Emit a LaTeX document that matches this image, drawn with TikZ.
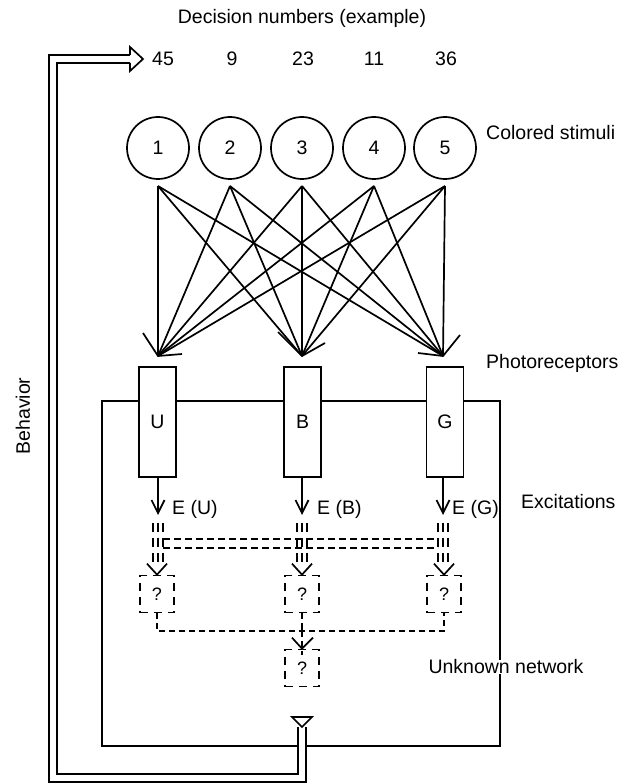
\documentclass[tikz,border=0pt]{standalone}
\usepackage{fontspec}
\setmainfont{Liberation Sans}
\usetikzlibrary{arrows.meta}
\begin{document}
\begin{tikzpicture}[x=1pt,y=-1pt,
  txt/.style={font=\fontsize{19.5}{23}\selectfont, inner sep=1pt},
  stim/.style={circle, draw, line width=1.7pt, minimum size=62pt, inner sep=0pt, font=\fontsize{19.5}{23}\selectfont},
  recept/.style={draw, line width=1.7pt, fill=white, minimum width=37pt, minimum height=110pt, inner sep=0pt, font=\fontsize{19.5}{23}\selectfont},
  qbox/.style={draw, line width=1.7pt, dash pattern=on 8pt off 6pt, minimum width=34pt, minimum height=37pt, inner sep=0pt, font=\fontsize{18}{22}\selectfont},
  wire/.style={line width=1.7pt},
  dwire/.style={line width=1.7pt, dash pattern=on 6pt off 4pt},
  tdash/.style={line width=1.5pt, dash pattern=on 9pt off 6pt},
  bus/.style={line width=1.5pt, dash pattern=on 7pt off 4pt},
  excit/.style={line width=1.7pt, -{Straight Barb[length=13pt,width=13pt,line width=1.7pt]}},
  dbl/.style={line width=1.6pt, double=white, double distance=6.2pt},
]
\useasboundingbox (0,0) rectangle (627,783);

% title and decision numbers
\node[txt] (title) at (302,18) {Decision numbers (example)};
\node[txt] (d1) at (163,59) {45};
\node[txt] (d2) at (232,59) {9};
\node[txt] (d3) at (303,59) {23};
\node[txt] (d4) at (374,59) {11};
\node[txt] (d5) at (446,59) {36};

% stimuli
\node[stim] (c1) at (158,148) {1};
\node[stim] (c2) at (230,148) {2};
\node[stim] (c3) at (302,148) {3};
\node[stim] (c4) at (374,148) {4};
\node[stim] (c5) at (445,148) {5};
\node[txt, anchor=west] (lstim) at (485,133) {Colored stimuli};

\foreach \i/\x in {1/158,2/230,3/302,4/374,5/445} {\coordinate (s\i) at (\x,186);}

\coordinate (t1) at (158,356);
\coordinate (t2) at (302,356);
\coordinate (t3) at (443,356);

\foreach \i in {1,...,5} {
  \foreach \j in {1,2,3} {
    \draw[wire] (s\i) -- (t\j);
  }
}
% big open arrowheads
\draw[wire] ([shift={(-15,-23)}]t1) -- (t1) -- ([shift={(24,-2)}]t1);
\draw[wire] ([shift={(-24,-24)}]t2) -- (t2) -- ([shift={(23,-13)}]t2);
\draw[wire] ([shift={(-25,-3)}]t3) -- (t3) -- ([shift={(17,-21)}]t3);

% enclosing network rectangle
\draw[wire] (102,401) rectangle (500,746);

% photoreceptors
\node[recept] (U) at (157.5,422) {U};
\node[recept] (B) at (302.5,422) {B};
\node[recept] (G) at (445,422) {G};
\node[txt, anchor=west] (lphot) at (485,363) {Photoreceptors};

% excitations
\coordinate (eU) at (158,515);
\coordinate (eB) at (302,515);
\coordinate (eG) at (443,515);
\draw[excit] (U.south -| eU) -- (eU);
\draw[excit] (B.south -| eB) -- (eB);
\draw[excit] (G.south -| eG) -- (eG);
\node[txt, anchor=west] (lU) at ([shift={(13,-6)}]eU) {E (U)};
\node[txt, anchor=west] (lB) at ([shift={(14,-6)}]eB) {E (B)};
\node[txt, anchor=west] (lG) at ([shift={(8,-6)}]eG) {E (G)};
\node[txt, anchor=west] (lexc) at (520,502) {Excitations};

% triple dashed lines and bus
\foreach \x in {158,302,443} {
  \foreach \d in {-5,0,5} {
    \draw[tdash] (\x+\d,523) -- (\x+\d,562);
  }
}
\draw[bus] (163,539) -- (438,539);
\draw[bus] (163,548) -- (438,548);

% unknown boxes
\node[qbox] (qU) at (157,594) {?};
\node[qbox] (qB) at (302,594) {?};
\node[qbox] (qG) at (444,594) {?};
\foreach \q in {qU,qB,qG} {
  \draw[wire] ([shift={(-10,-11)}]\q.north) -- (\q.north) -- ([shift={(10,-11)}]\q.north);
}

\coordinate (jc) at (302,631);
\node[qbox] (qN) at (302,668) {?};
\draw[dwire] (qU.south) |- (jc) -| (qG.south);
\draw[dwire] (qB.south) -- (jc);
\draw[dwire] (jc) -- ([yshift=-6pt]qN.north);
\draw[wire] ([shift={(-10,-11)}]qN.north) -- (qN.north) -- ([shift={(11,-11)}]qN.north);
\draw[wire] (jc) ++(0,-5) -- ++(0,9);

\node[txt, fill=white, inner sep=0pt] (lunk) at (506,667) {Unknown network};

% behavior output
\coordinate (ot) at (302,727);
\coordinate (hd) at (130,59);
\draw[dbl] (ot) -- (302,778) -- (53,778) -- (53,59) -- (hd);
\draw[wire, fill=white] (292,717) -- (312,717) -- (ot) -- cycle;
\fill[white] (130,47) -- (143,59) -- (130,71) -- cycle;
\draw[wire] ([yshift=4pt]hd) -- (130,47) -- (143,59) -- (130,71) -- ([yshift=-4pt]hd);
\node[txt, rotate=90] (lbeh) at (23,416) {Behavior};
\end{tikzpicture}
\end{document}
